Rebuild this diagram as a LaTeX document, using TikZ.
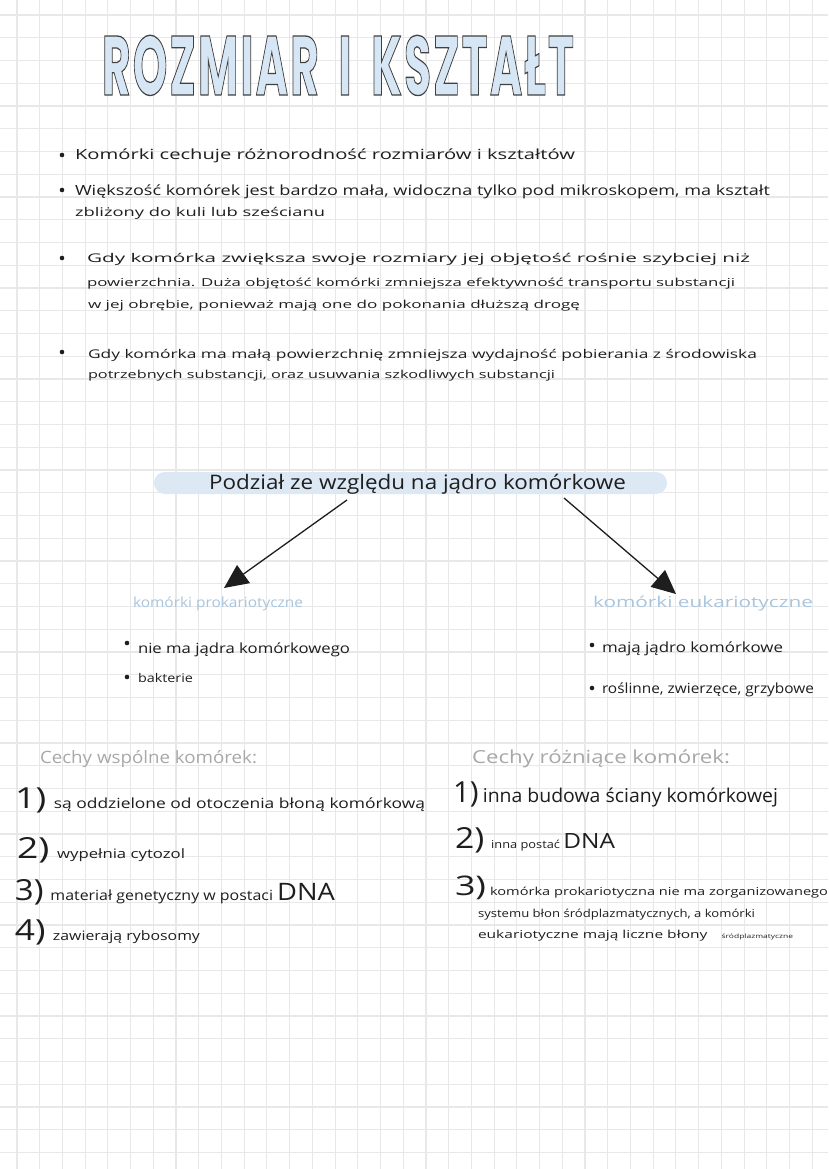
\documentclass[tikz,border=0pt]{standalone}
\usepackage{fontspec}
\setmainfont{Open Sans}
\newfontfamily\titlefont[LetterSpace=5]{Poppins}
\usepackage{graphicx}
\usetikzlibrary{arrows.meta}
\definecolor{gridc}{HTML}{E8E8E8}
\definecolor{titlefill}{HTML}{D6E6F4}
\definecolor{barc}{HTML}{DCE9F5}
\definecolor{lblue}{HTML}{A8C5DF}
\definecolor{lgray}{HTML}{A8A8A8}
\definecolor{ink}{HTML}{1E1E1E}
\newlength\fitlen
\newcommand\fitw[2]{\settowidth\fitlen{#2}\pgfmathsetmacro\fitf{#1/\fitlen}\scalebox{\fitf}[1]{#2}}
\newcommand\outl[1]{\special{pdf:literal direct 0.25 0.25 0.25 RG 1.3 w 2 Tr}#1\special{pdf:literal direct 0 Tr}}
\newcommand\fs[1]{\fontsize{#1}{#1}\selectfont}
\begin{document}
\begin{tikzpicture}[x=1pt,y=-1pt,
  txt/.style={anchor=base west, inner sep=0pt, outer sep=0pt, text=ink},
  bl/.style={txt, text=lblue},
  gr/.style={txt, text=lgray},
  dot/.style={fill=ink},
  arr/.style={draw=ink, line width=1.3pt, -{Triangle[length=24pt,width=22pt]}}]
\useasboundingbox (0,0) rectangle (828,1169);
\fill[white] (0,0) rectangle (828,1169);
\foreach \i in {0,...,35} \draw[gridc, line width=1.1pt] ({17+22.72*\i},0) -- ({17+22.72*\i},1169);
\foreach \j in {0,...,50} \draw[gridc, line width=1.1pt] (0,{15+22.75*\j}) -- (828,{15+22.75*\j});

% title
\node[txt, text=titlefill, font=\titlefont\bfseries\fs{84}] (title) at (102,95)
  {\fitw{472}{\outl{ROZMIAR\hspace{0.45em}I\hspace{0.45em}KSZTAŁT}}};

% bullets top
\fill[dot] (62,155) circle (2.3);
\node[txt, font=\fs{14}] (b1) at (75,160) {\fitw{500}{Komórki cechuje różnorodność rozmiarów i kształtów}};
\fill[dot] (62,190) circle (2.3);
\node[txt, font=\fs{14}] (b2a) at (75,196) {\fitw{695}{Większość komórek jest bardzo mała, widoczna tylko pod mikroskopem, ma kształt}};
\node[txt, font=\fs{12}] (b2b) at (75,216) {\fitw{250}{zbliżony do kuli lub sześcianu}};
\fill[dot] (62,258) circle (2.3);
\node[txt, font=\fs{12}] (b3a) at (87,262) {\fitw{663}{Gdy komórka zwiększa swoje rozmiary jej objętość rośnie szybciej niż}};
\node[txt, font=\fs{11}] (b3b) at (87,286) {\fitw{648}{powierzchnia. Duża objętość komórki zmniejsza efektywność transportu substancji}};
\node[txt, font=\fs{11}] (b3c) at (88,308) {\fitw{492}{w jej obrębie, ponieważ mają one do pokonania dłuższą drogę}};
\fill[dot] (62,352) circle (2.3);
\node[txt, font=\fs{12}] (b4a) at (88,358) {\fitw{669}{Gdy komórka ma małą powierzchnię zmniejsza wydajność pobierania z środowiska}};
\node[txt, font=\fs{11}] (b4b) at (88,378) {\fitw{467}{potrzebnych substancji, oraz usuwania szkodliwych substancji}};

% division
\fill[barc, rounded corners=11pt] (154,472) rectangle (667,494);
\node[txt, font=\fs{20}] (podzial) at (209,489) {\fitw{417}{Podział ze względu na jądro komórkowe}};
\coordinate (las) at (347,500);
\coordinate (lat) at (224,588);
\coordinate (ras) at (564,498);
\coordinate (rat) at (676,594);
\draw[arr] (las) -- (lat);
\draw[arr] (ras) -- (rat);

\node[bl, font=\fs{14}] (prok) at (133,607) {\fitw{170}{komórki prokariotyczne}};
\node[bl, font=\fs{15}] (euk) at (593,607) {\fitw{220}{komórki eukariotyczne}};

\fill[dot] (127,643) circle (2.3);
\node[txt, font=\fs{14}] (p1) at (138,653) {\fitw{212}{nie ma jądra komórkowego}};
\fill[dot] (127,677) circle (2.3);
\node[txt, font=\fs{12}] (p2) at (138,682) {\fitw{55}{bakterie}};
\fill[dot] (592,645) circle (2.3);
\node[txt, font=\fs{14}] (e1) at (602,652) {\fitw{181}{mają jądro komórkowe}};
\fill[dot] (592,688) circle (2.3);
\node[txt, font=\fs{14}] (e2) at (602,693) {\fitw{212}{roślinne, zwierzęce, grzybowe}};

% features
\node[gr, font=\fs{17}] (cw) at (40,763) {\fitw{217}{Cechy wspólne komórek:}};
\node[txt, font=\fs{14}] (w1) at (15,808) {\fitw{410}{{\fs{29}1)}\hspace{6pt}są oddzielone od otoczenia błoną komórkową}};
\node[txt, font=\fs{13}] (w2) at (17,858) {\fitw{168}{{\fs{29}2)}\hspace{6pt}wypełnia cytozol}};
\node[txt, font=\fs{14}] (w3) at (15,900) {\fitw{320}{{\fs{29}3)}\hspace{6pt}materiał genetyczny w postaci {\fs{24}DNA}}};
\node[txt, font=\fs{13}] (w4) at (15,940) {\fitw{185}{{\fs{29}4)}\hspace{6pt}zawierają rybosomy}};

\node[gr, font=\fs{18}] (cr) at (472,763) {\fitw{258}{Cechy różniące komórek:}};
\node[txt, font=\fs{19}] (r1) at (453,802) {\fitw{325}{{\fs{29}1)}\hspace{4pt}inna budowa ściany komórkowej}};
\node[txt, font=\fs{11}] (r2) at (455,848) {\fitw{160}{{\fs{29}2)}\hspace{6pt}inna postać {\fs{21}DNA}}};
\node[txt, font=\fs{11}] (r3a) at (455,895) {\fitw{373}{{\fs{27}3)}\hspace{3pt}komórka prokariotyczna nie ma zorganizowanego}};
\node[txt, font=\fs{11}] (r3b) at (478,917) {\fitw{277}{systemu błon śródplazmatycznych, a komórki}};
\node[txt, font=\fs{11}] (r3c) at (478,938) {\fitw{315}{eukariotyczne mają liczne błony\hspace{10pt}{\fs{6}śródplazmatyczne}}};
\end{tikzpicture}
\end{document}
